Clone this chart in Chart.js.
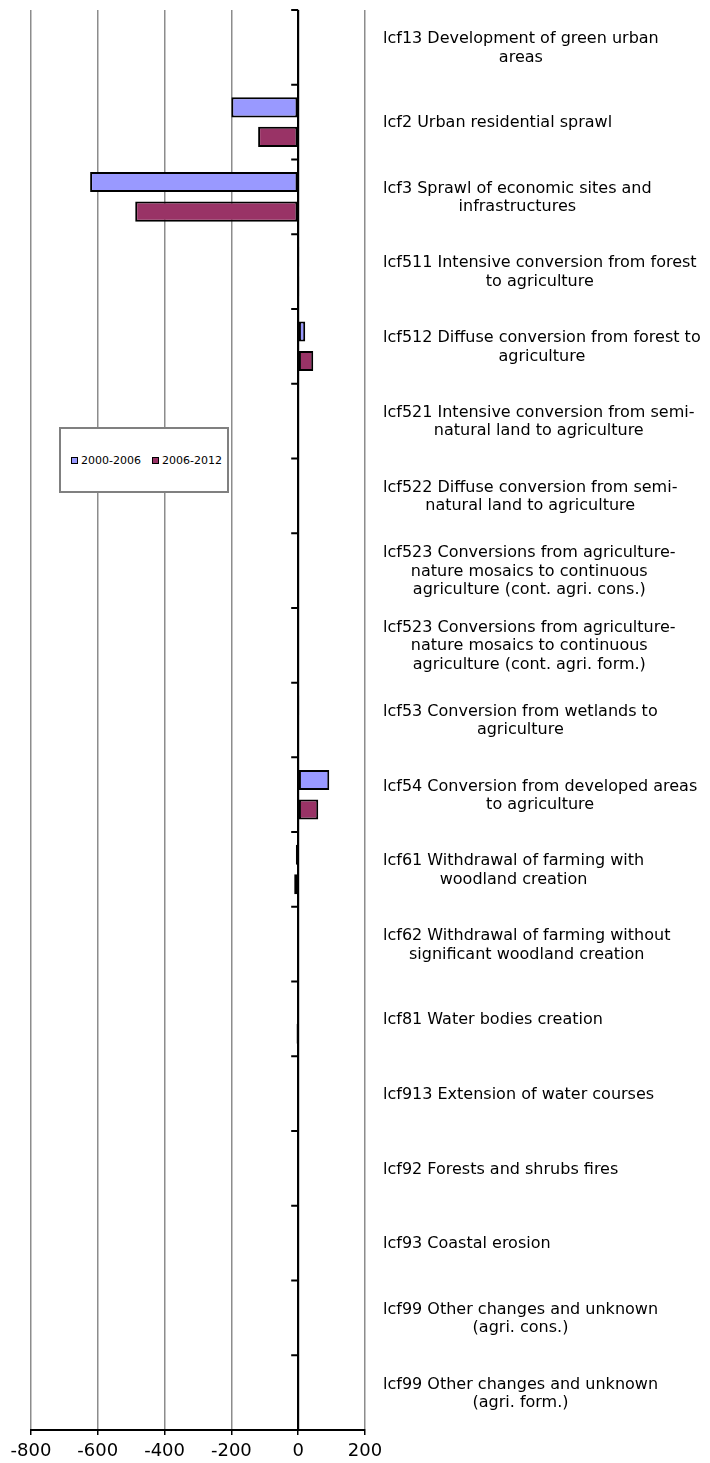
<!DOCTYPE html>
<html>
<head>
<meta charset="utf-8">
<script src="https://cdn.jsdelivr.net/npm/chart.js@4/dist/chart.umd.min.js"></script>
<style>
    html, body { margin: 0; padding: 0; background: #fff; }
    #wrap { position: relative; width: 710px; height: 1463px; }
    #legend {
        position: absolute; left: 59px; top: 427px; width: 170px; height: 66px;
        border: 2px solid #808080; background: #fff; box-sizing: border-box;
        font: 11px "DejaVu Sans", Verdana, sans-serif; color: #000; white-space: nowrap;
        display: flex; align-items: center; padding-left: 10px;
    }
    #legend span.item { display: inline-flex; align-items: center; margin-right: 11px; }
    #legend span.box { width: 5px; height: 5px; border: 1px solid #000; margin-right: 3px; display: inline-block; }
</style>
</head>
<body>
<div id="wrap">
    <canvas id="barChart" width="710" height="1463"></canvas>
    <div id="legend"></div>
</div>
<script>
"use strict";

var categories = [
    ["lcf13 Development of green urban", "areas"],
    ["lcf2 Urban residential sprawl"],
    ["lcf3 Sprawl of economic sites and", "infrastructures"],
    ["lcf511 Intensive conversion from forest", "to agriculture"],
    ["lcf512 Diffuse conversion from forest to", "agriculture"],
    ["lcf521 Intensive conversion from semi-", "natural land to agriculture"],
    ["lcf522 Diffuse conversion from semi-", "natural land to agriculture"],
    ["lcf523 Conversions from agriculture-", "nature mosaics to continuous", "agriculture (cont. agri. cons.)"],
    ["lcf523 Conversions from agriculture-", "nature mosaics to continuous", "agriculture (cont. agri. form.)"],
    ["lcf53 Conversion from wetlands to", "agriculture"],
    ["lcf54 Conversion from developed areas", "to agriculture"],
    ["lcf61 Withdrawal of farming with", "woodland creation"],
    ["lcf62 Withdrawal of farming without", "significant woodland creation"],
    ["lcf81 Water bodies creation"],
    ["lcf913 Extension of water courses"],
    ["lcf92 Forests and shrubs fires"],
    ["lcf93 Coastal erosion"],
    ["lcf99 Other changes and unknown", "(agri. cons.)"],
    ["lcf99 Other changes and unknown", "(agri. form.)"]
];

var seriesNames = ["2000-2006", "2006-2012"];
var values2000 = [0, -200, -623, 3, 21, 0, 0, 0, 0, 3, 93, -7, -2, -3, 0, 0, 0, 0, 0];
var values2006 = [0, -120, -488, 3, 45, 0, 0, 0, 0, 2, 60, -12, -2, -5, 0, 0, 0, 0, 0];

var xMin = -800, xMax = 200, xStep = 200;

var labelFont = '16px "DejaVu Sans", Verdana, sans-serif';

/* zero axis with category tick marks (under the bars) */
var excelAxis = {
    id: 'excelAxis',
    beforeDatasetsDraw: function(chart) {
        var ctx = chart.ctx;
        var xs = chart.scales.x, ys = chart.scales.y;
        var x0 = xs.getPixelForValue(0);
        var area = chart.chartArea;
        ctx.save();
        ctx.strokeStyle = '#000';
        ctx.lineWidth = 2;
        ctx.beginPath();
        ctx.moveTo(x0, area.top);
        ctx.lineTo(x0, area.bottom);
        for (var i = 0; i <= categories.length; i++) {
            var yb = ys.getPixelForValue(i - 0.5);
            ctx.moveTo(x0 - 7, yb);
            ctx.lineTo(x0, yb);
        }
        ctx.stroke();
        ctx.restore();
    },
    // category labels: each block left aligned, its lines centred
    afterDraw: function(chart) {
        var ctx = chart.ctx;
        var ys = chart.scales.y;
        var area = chart.chartArea;
        ctx.save();
        ctx.font = labelFont;
        ctx.fillStyle = '#000';
        ctx.textAlign = 'center';
        ctx.textBaseline = 'middle';
        var lh = 18.5;
        var left = area.right + 18;
        categories.forEach(function(lines, idx) {
            var w = 0;
            lines.forEach(function(l) { w = Math.max(w, ctx.measureText(l).width); });
            var yc = ys.getPixelForValue(idx);
            var y = yc - (lines.length - 1) * lh / 2;
            lines.forEach(function(l, k) {
                ctx.fillText(l, left + w / 2, y + k * lh + 1);
            });
        });
        ctx.restore();
    }
};

var data1 = {
    labels: categories,
    datasets: [{
        label: seriesNames[0],
        backgroundColor: '#9999FF',
        borderColor: '#000',
        borderWidth: 2,
        borderSkipped: false,
        data: values2000
    }, {
        label: seriesNames[1],
        backgroundColor: '#993366',
        borderColor: '#000',
        borderWidth: 2,
        borderSkipped: false,
        data: values2006
    }]
};

var bar = document.getElementById("barChart").getContext('2d');
var myBarChart = new Chart(bar, {
    type: 'bar',
    data: data1,
    plugins: [excelAxis],
    options: {
        indexAxis: 'y',
        responsive: false,
        animation: false,
        categoryPercentage: 0.79,
        barPercentage: 0.68,
        layout: { padding: { top: 10, left: 31, right: 0, bottom: 0 } },
        plugins: {
            legend: { display: false },
            tooltip: { enabled: false }
        },
        scales: {
            x: {
                min: xMin,
                max: xMax,
                ticks: {
                    stepSize: xStep,
                    color: '#000',
                    padding: 6,
                    font: { family: '"DejaVu Sans", Verdana, sans-serif', size: 18 }
                },
                grid: {
                    color: function(c) { return c.tick && c.tick.value === 0 ? '#000' : '#8c8c8c'; },
                    lineWidth: 1.5,
                    tickColor: '#000',
                    tickLength: 5
                },
                border: { color: '#000', width: 2 },
                afterFit: function(s) { s.height = 33; }
            },
            y: {
                position: 'right',
                ticks: { display: false },
                grid: { display: false, drawTicks: false },
                border: { display: false },
                afterFit: function(s) { s.width = 345; }
            }
        }
    }
});

/* legend box like the original */
var legend = document.getElementById('legend');
myBarChart.data.datasets.forEach(function(ds) {
    var item = document.createElement('span');
    item.className = 'item';
    var box = document.createElement('span');
    box.className = 'box';
    box.style.background = ds.backgroundColor;
    item.appendChild(box);
    item.appendChild(document.createTextNode(ds.label));
    legend.appendChild(item);
});
</script>
</body>
</html>
